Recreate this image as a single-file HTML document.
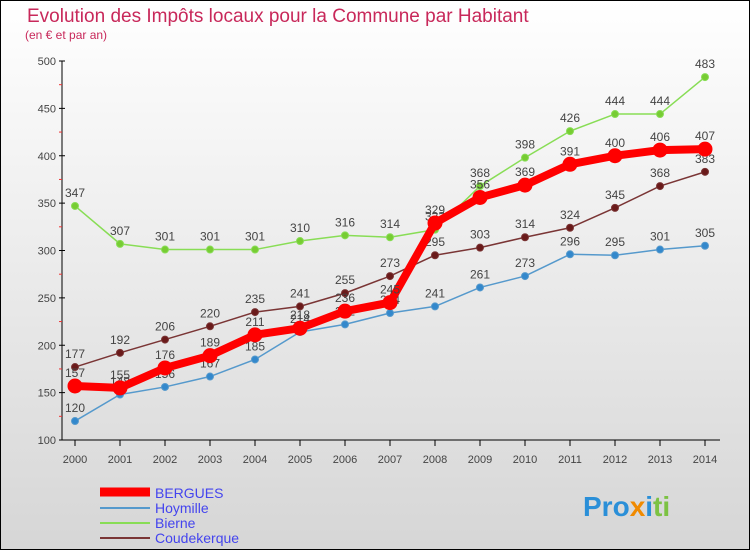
<!DOCTYPE html>
<html><head><meta charset="utf-8"><style>
body{margin:0;width:750px;height:550px;overflow:hidden;font-family:"Liberation Sans",sans-serif}
svg text{font-family:"Liberation Sans",sans-serif}
</style></head><body>
<svg id="c" width="750" height="550" xmlns="http://www.w3.org/2000/svg">
<defs><linearGradient id="bg" x1="0" y1="0" x2="0" y2="1"><stop offset="0" stop-color="#ffffff"/><stop offset="1" stop-color="#d6d6d6"/></linearGradient></defs>
<rect x="0.5" y="0.5" width="749" height="549" fill="url(#bg)" stroke="#000"/>
<text x="27" y="22" font-size="19" fill="#c8285a">Evolution des Impôts locaux pour la Commune par Habitant</text>
<text x="25" y="39" font-size="12" fill="#c8285a">(en € et par an)</text>
<g id="axes"></g><g id="series"></g>
<g>
<line x1="100" y1="492" x2="150" y2="492" stroke="#f00" stroke-width="9"/>
<text x="155" y="498" font-size="14" fill="#4444ee">BERGUES</text>
<line x1="100" y1="508" x2="150" y2="508" stroke="#5599cc" stroke-width="2"/>
<text x="155" y="513" font-size="14" fill="#4444ee">Hoymille</text>
<line x1="100" y1="523" x2="150" y2="523" stroke="#88dd55" stroke-width="2"/>
<text x="155" y="528" font-size="14" fill="#4444ee">Bierne</text>
<line x1="100" y1="538" x2="150" y2="538" stroke="#7a3535" stroke-width="2"/>
<text x="155" y="543" font-size="14" fill="#4444ee">Coudekerque</text>
</g>
<text x="583" y="516" font-size="28" font-weight="bold"><tspan fill="#2a8fd8">Pro</tspan><tspan fill="#f08a00">x</tspan><tspan fill="#2a8fd8">i</tspan><tspan fill="#7cc242">ti</tspan></text>
</svg>
<script>
const years=[2000,2001,2002,2003,2004,2005,2006,2007,2008,2009,2010,2011,2012,2013,2014];
const bergues=[157,155,176,189,211,218,236,245,329,356,369,391,400,406,407];
const hoymille=[120,148,156,167,185,214,222,234,241,261,273,296,295,301,305];
const bierne=[347,307,301,301,301,310,316,314,322,368,398,426,444,444,483];
const coudekerque=[177,192,206,220,235,241,255,273,295,303,314,324,345,368,383];
const yTicks=[100,150,200,250,300,350,400,450,500];
const NS="http://www.w3.org/2000/svg";
const xS=i=>75+i*45, yS=v=>440-(v-100)*379/400;
function mk(t,a,p){const e=document.createElementNS(NS,t);for(const k in a)e.setAttribute(k,a[k]);p.appendChild(e);return e;}
const ax=document.getElementById('axes'),se=document.getElementById('series');
const yl=mk('line',{x1:62,y1:61,x2:62,y2:440,stroke:'#000'},ax);


yTicks.forEach((t,i)=>{const y=yS(t);
mk('line',{x1:59,y1:y,x2:65,y2:y,stroke:'#000'},ax);
if(i<yTicks.length-1){mk('line',{x1:59,y1:yS(t+25),x2:62,y2:yS(t+25),stroke:'#e33'},ax);}
const tx=mk('text',{x:56,y:y+4,'font-size':11,fill:'#444','text-anchor':'end'},ax);tx.textContent=t;

});
const xl=mk('line',{x1:62,y1:440,x2:720,y2:440,stroke:'#000'},ax);


years.forEach((yr,i)=>{const x=xS(i);mk('line',{x1:x,y1:440,x2:x,y2:446,stroke:'#000'},ax);
const tx=mk('text',{x:x,y:463,'font-size':11,fill:'#444','text-anchor':'middle'},ax);tx.textContent=yr;

});
function draw(name,vals,col,dot,w,r){const g=mk('g',{},se);


const pl=mk('polyline',{points:vals.map((v,i)=>xS(i)+','+yS(v)).join(' '),fill:'none',stroke:col,'stroke-width':w,'stroke-linejoin':'round'},g);


vals.forEach((v,i)=>{const c=mk('circle',{cx:xS(i),cy:yS(v),r:r,fill:dot,stroke:col,'stroke-width':1},g);


const t=mk('text',{x:xS(i),y:yS(v)-9,'font-size':12,fill:'#444','text-anchor':'middle'},g);t.textContent=v;

});}
draw('bierne',bierne,'#88dd55','#77cc33',1.5,3.5);
draw('coudekerque',coudekerque,'#7a3535','#6a1a1a',1.5,3.5);
draw('hoymille',hoymille,'#5599cc','#3388cc',1.5,3.5);
draw('bergues',bergues,'#ff0000','#ff0000',8,7);
</script>
</body></html>
